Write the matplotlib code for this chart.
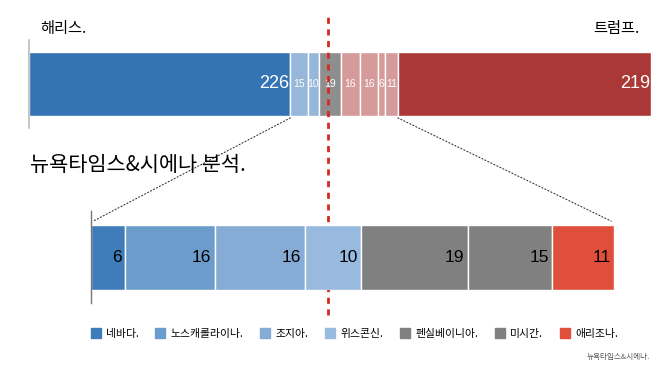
import matplotlib
matplotlib.use("Agg")
import matplotlib.pyplot as plt
from matplotlib.lines import Line2D
from matplotlib.patches import ConnectionPatch

plt.rcParams['font.family'] = ['Noto Sans CJK KR', 'DejaVu Sans']

# ---- data ----
top_values = [226, 15, 10, 19, 16, 16, 6, 11, 219]
top_colors = ['#3473b4', '#96b7d9', '#96b7d9', '#8e8e8e',
              '#d59b9a', '#d59b9a', '#d59b9a', '#d59b9a', '#aa3836']
top_big = [True, False, False, False, False, False, False, False, True]

states = ['네바다.', '노스캐롤라이나.', '조지아.', '위스콘신.', '펜실베이니아.', '미시간.', '애리조나.']
state_values = [6, 16, 16, 10, 19, 15, 11]
state_colors = ['#3f7dba', '#6c9ccb', '#86abd4', '#98bade', '#7f807f', '#7f807f', '#e04f3b']

midline = 258.5   # position of the dashed line on the top bar

W, H = 658, 370
fig = plt.figure(figsize=(W / 100, H / 100), dpi=100)


def px_axes(x0, y0, x1, y1):
    return fig.add_axes([x0 / W, 1 - y1 / H, (x1 - x0) / W, (y1 - y0) / H])


# ---- top bar ----
ax_top = px_axes(29, 52, 651, 116)
left = 0
for v, c, big in zip(top_values, top_colors, top_big):
    ax_top.barh(0, v, left=left, height=1, color=c, edgecolor='white', linewidth=1)
    if big:
        ax_top.text(left + v - 1, 0, str(v), ha='right', va='center', color='white',
                    fontsize=13, family=['Liberation Sans', 'DejaVu Sans'])
    else:
        ax_top.text(left + v / 2, 0, str(v), ha='center', va='center', color='white',
                    fontsize=7.5, family=['Liberation Sans', 'DejaVu Sans'])
    left += v
ax_top.set_xlim(0, sum(top_values))
ax_top.set_ylim(-0.5, 0.5)
ax_top.axis('off')

# left axis line of the top bar
fig.add_artist(Line2D([29 / W, 29 / W], [1 - 40 / H, 1 - 128 / H], color='#bbbbbb', lw=1.2))

fig.text(40 / W, 1 - 28 / H, '해리스.', fontsize=11, va='center', ha='left')
fig.text(640 / W, 1 - 28 / H, '트럼프.', fontsize=11, va='center', ha='right')

# ---- bottom bar ----
ax_bot = px_axes(91, 225, 614, 290)
left = 0
for v, c in zip(state_values, state_colors):
    ax_bot.barh(0, v, left=left, height=1, color=c, edgecolor='white', linewidth=1)
    ax_bot.text(left + v - 0.6, 0, str(v), ha='right', va='center', color='black',
                fontsize=12.5, family=['Liberation Sans', 'DejaVu Sans'])
    left += v
ax_bot.set_xlim(0, sum(state_values))
ax_bot.set_ylim(-0.5, 0.5)
ax_bot.axis('off')

fig.add_artist(Line2D([91 / W, 91 / W], [1 - 211 / H, 1 - 303 / H], color='#777777', lw=1))

fig.text(30 / W, 1 - 165 / H, '뉴욕타임스&시에나 분석.', fontsize=15, va='center', ha='left')

# connectors from the swing part of the top bar to the zoomed bar
swing_start = top_values[0]
swing_end = sum(top_values[:-1])
for xa, xb in [(swing_start, 0.4), (swing_end, sum(state_values) - 0.5)]:
    con = ConnectionPatch(xyA=(xa, -0.53), coordsA=ax_top.transData,
                          xyB=(xb, 0.56), coordsB=ax_bot.transData,
                          color='#333333', lw=0.8, linestyle=(0, (1, 2)))
    fig.add_artist(con)

# dashed red midline
ax_top.axvline(midline, ymin=-3.11, ymax=1.63, color='#d62a1e', lw=2,
               linestyle=(0, (2.2, 2.0)), clip_on=False, zorder=5)

# ---- legend ----
handles = [Line2D([], [], marker='s', linestyle='none', markersize=7.5,
                  markerfacecolor=c, markeredgecolor=c) for c in state_colors]
fig.legend(handles, states, loc='center', bbox_to_anchor=(354 / W, 1 - 334 / H),
           ncol=7, frameon=False, fontsize=7.8, handletextpad=0.45,
           columnspacing=1.5, handlelength=1.0)

fig.text(650 / W, 1 - 357 / H, '뉴욕타임스&시에나.', fontsize=5.5, color='#555555',
         ha='right', va='center')

fig.savefig('out.png', dpi=100)
